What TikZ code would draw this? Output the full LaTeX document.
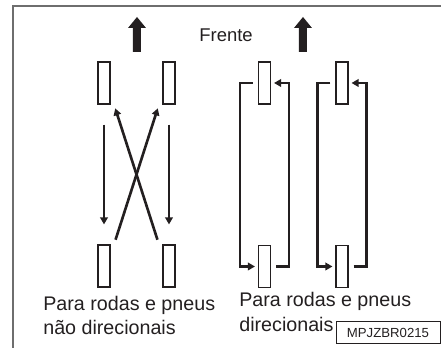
\documentclass[tikz,border=0pt]{standalone}
\usepackage{fontspec}
\setmainfont{Liberation Sans}
\usetikzlibrary{arrows.meta,calc}
\definecolor{framegray}{RGB}{110,110,110}
\definecolor{inkdark}{RGB}{35,31,32}

\begin{document}
\begin{tikzpicture}[
    inkdark,
    tire/.style={draw, inner sep=0pt, minimum width=0.24cm, minimum height=0.84cm, line width=0.6pt},
    swap/.style={line width=1.5pt, -{Triangle[length=0.14cm, width=0.15cm]}},
    lbl/.style={font=\fontsize{11.2}{14}\selectfont, align=left, inner sep=0pt}
]
\useasboundingbox (0,0) rectangle (8.82,6.96);

% Frame
\draw[framegray, line width=0.7pt] (0.26,0) -- (0.26,6.84) -- (8.82,6.84);

% Front arrows
\foreach \ax in {2.74,6.06}
  \fill (\ax-0.08,5.92) -- (\ax-0.08,6.40) -- (\ax-0.18,6.40) -- (\ax,6.62)
        -- (\ax+0.18,6.40) -- (\ax+0.08,6.40) -- (\ax+0.08,5.92) -- cycle;
\node[font=\fontsize{10.5}{12}\selectfont] (front) at (4.52,6.26) {Frente};

% Non directional tires
\node[tire] (nFL) at (2.08,5.30) {};
\node[tire] (nFR) at (3.38,5.30) {};
\node[tire] (nRL) at (2.08,1.64) {};
\node[tire] (nRR) at (3.38,1.64) {};

\draw[swap, shorten <=0.4cm, shorten >=0.4cm] (nFL) -- (nRL);
\draw[swap, shorten <=0.4cm, shorten >=0.4cm] (nFR) -- (nRR);
\draw[swap, shorten <=0.1cm, shorten >=0.08cm] ($(nRL.north east)+(0.07,0)$) -- ($(nFR.south west)+(-0.07,0)$);
\draw[swap, shorten <=0.1cm, shorten >=0.08cm] ($(nRR.north west)+(-0.07,0)$) -- ($(nFL.south east)+(0.07,0)$);

\node[lbl, anchor=base west] (lblN) at (0.86,0.26) {Para rodas e pneus\\não direcionais};

% Directional tires
\node[tire] (dFL) at (5.29,5.30) {};
\node[tire] (dFR) at (6.84,5.30) {};
\node[tire] (dRL) at (5.29,1.63) {};
\node[tire] (dRR) at (6.84,1.63) {};

\draw[swap, shorten <=0.1cm, shorten >=0.06cm] (dFL.west) -- ++(-0.36,0) |- (dRL.west);
\draw[swap, shorten <=0.1cm, shorten >=0.06cm] (dRL.east) -- ++(0.36,0) |- (dFL.east);
\draw[swap, shorten <=0.1cm, shorten >=0.06cm] (dFR.west) -- ++(-0.36,0) |- (dRR.west);
\draw[swap, shorten <=0.1cm, shorten >=0.06cm] (dRR.east) -- ++(0.36,0) |- (dFR.east);

\node[lbl, anchor=base west] (lblD) at (4.78,0.33) {Para rodas e pneus\\direcionais};

% Code box
\node[draw, line width=0.5pt, minimum width=2.08cm, minimum height=0.43cm, inner sep=0pt,
      font=\fontsize{7.5}{9}\selectfont] (code) at (7.76,0.31) {MPJZBR0215};
\end{tikzpicture}
\end{document}
